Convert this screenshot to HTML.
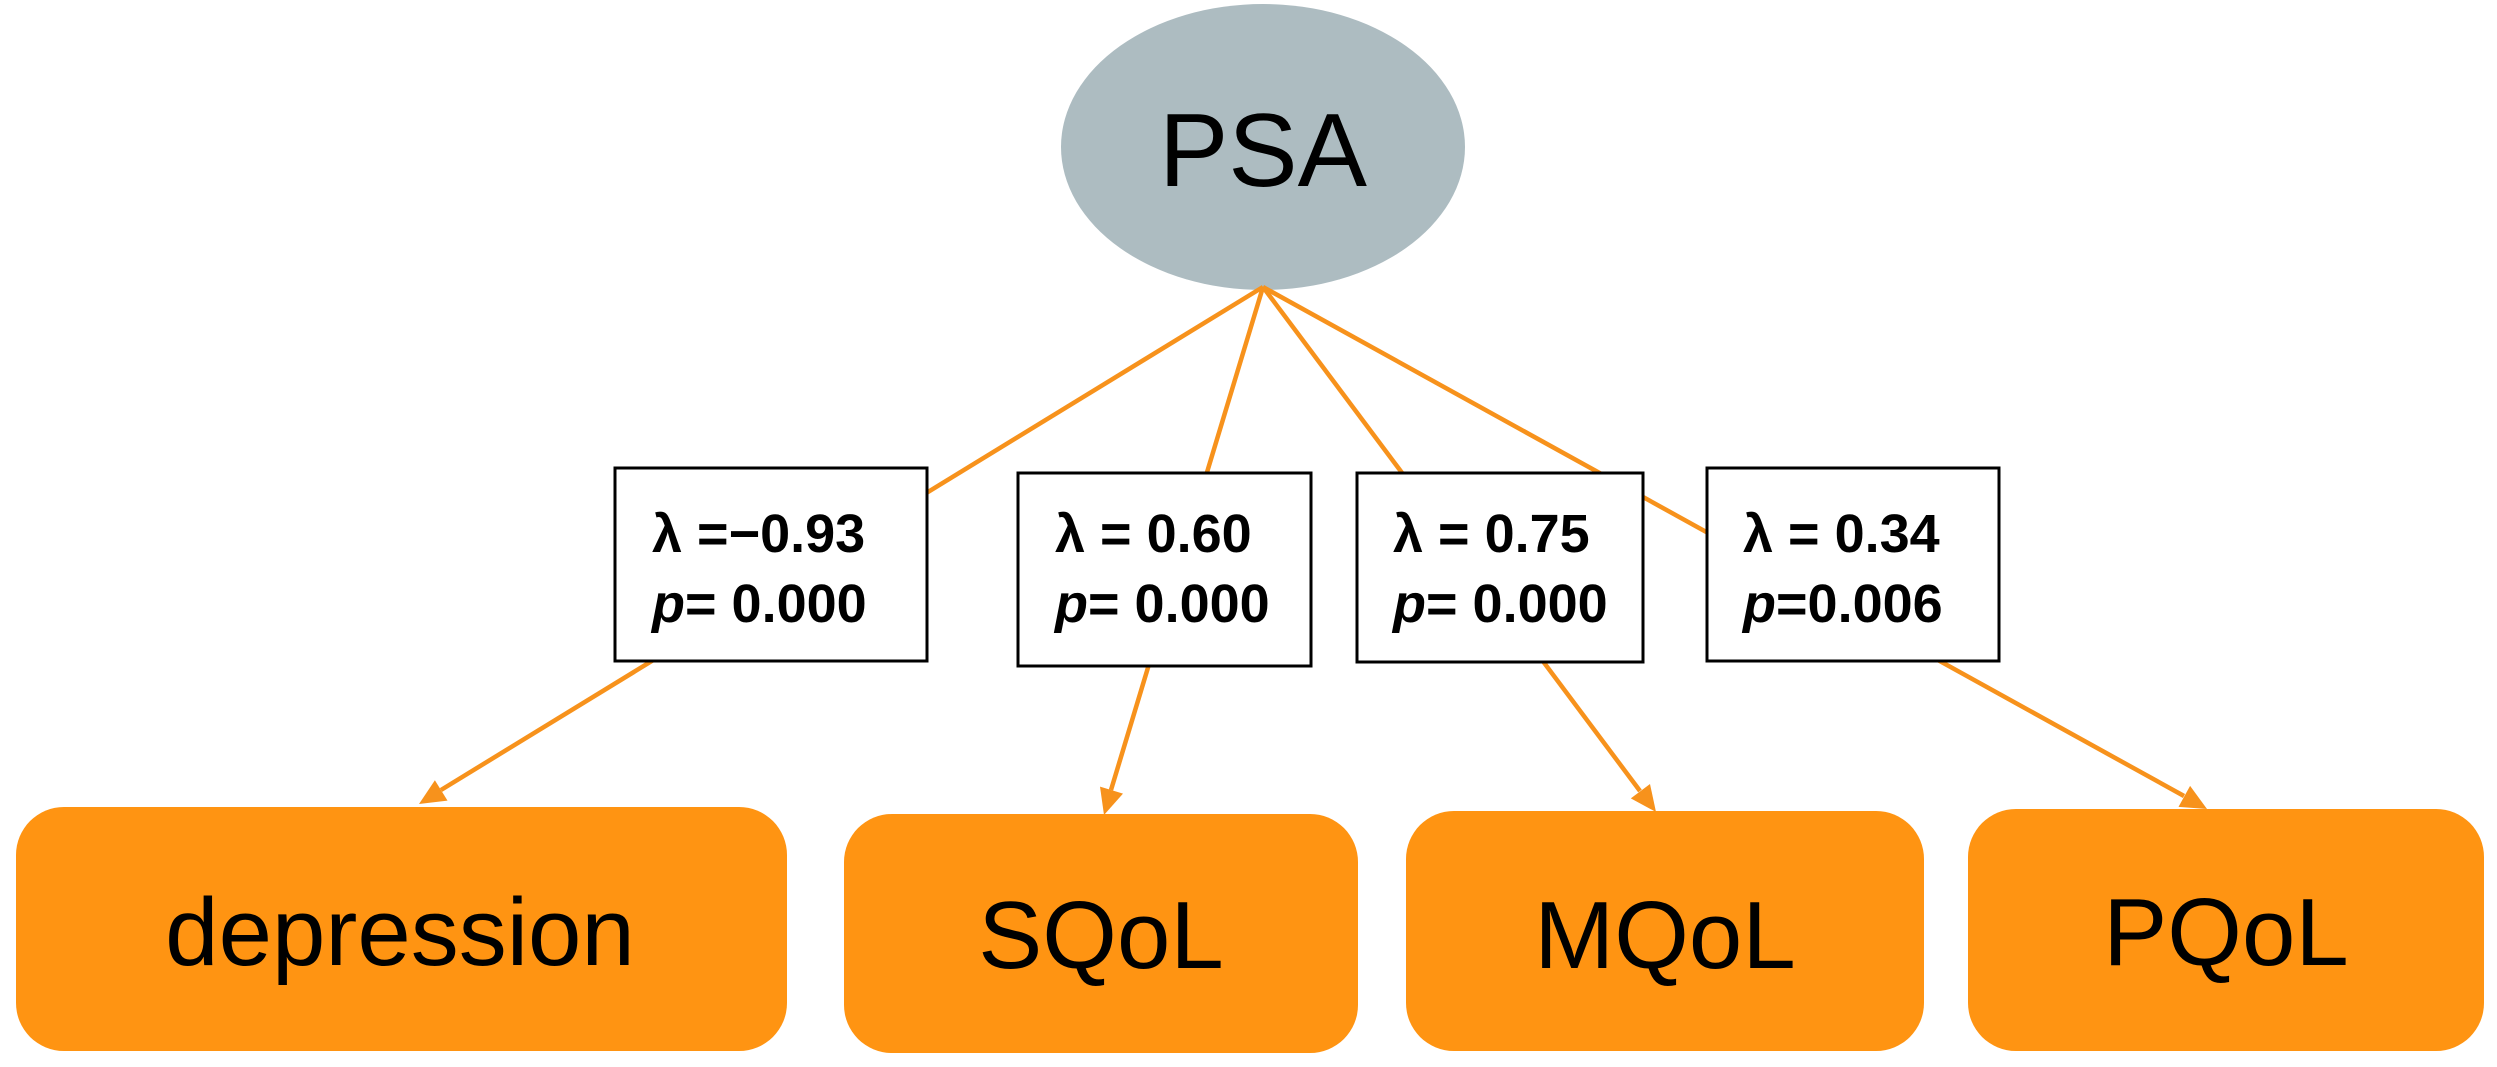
<!DOCTYPE html>
<html><head><meta charset="utf-8"><style>
html,body{margin:0;padding:0;background:#fff;}
svg{display:block;}
</style></head><body>
<svg width="2497" height="1067" viewBox="0 0 2497 1067" xmlns="http://www.w3.org/2000/svg" font-family="Liberation Sans, sans-serif">
<ellipse cx="1263" cy="147" rx="202" ry="143" fill="#adbcc1"/>
<text x="1263" y="186" font-size="104" text-anchor="middle" fill="#000">PSA</text>
<g stroke="#f7921c" stroke-width="4.5" fill="none">
<line x1="1263" y1="287" x2="441" y2="790"/>
<line x1="1263" y1="287" x2="1111" y2="790"/>
<line x1="1263" y1="287" x2="1640" y2="791"/>
<line x1="1263" y1="287" x2="2184" y2="796"/>
</g>
<g fill="#f7921c">
<polygon points="419,804 447.5,800.6 434.9,780.2"/>
<polygon points="1104,815 1123,793.6 1100,786.6"/>
<polygon points="1656,812 1650,784 1630.8,798.4"/>
<polygon points="2207,809 2190.1,785.9 2178.5,806.9"/>
</g>
<g fill="#fff" stroke="#000" stroke-width="3">
<rect x="615" y="468" width="312" height="193"/>
<rect x="1018" y="473" width="293" height="193"/>
<rect x="1357" y="473" width="286" height="189"/>
<rect x="1707" y="468" width="292" height="193"/>
</g>
<g font-size="54" font-weight="bold" fill="#000">
<text x="652" y="552">λ =−0.93</text>
<text x="652" y="622"><tspan font-style="italic">p</tspan>= 0.000</text>
<text x="1055" y="552">λ = 0.60</text>
<text x="1055" y="622"><tspan font-style="italic">p</tspan>= 0.000</text>
<text x="1393" y="552">λ = 0.75</text>
<text x="1393" y="622"><tspan font-style="italic">p</tspan>= 0.000</text>
<text x="1743" y="552">λ = 0.34</text>
<text x="1743" y="622"><tspan font-style="italic">p</tspan>=0.006</text>
</g>
<g fill="#ff9412">
<rect x="16" y="807" width="771" height="244" rx="48"/>
<rect x="844" y="814" width="514" height="239" rx="48"/>
<rect x="1406" y="811" width="518" height="240" rx="48"/>
<rect x="1968" y="809" width="516" height="242" rx="48"/>
</g>
<g font-size="96" text-anchor="middle" fill="#000">
<text x="400" y="965">depression</text>
<text x="1101" y="968">SQoL</text>
<text x="1665" y="968">MQoL</text>
<text x="2226" y="965">PQoL</text>
</g>
</svg>
</body></html>
